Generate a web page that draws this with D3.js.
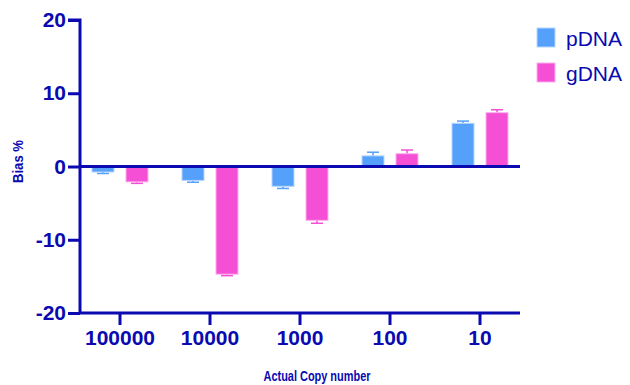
<!DOCTYPE html>
<html><head><meta charset="utf-8">
<script src="https://cdn.jsdelivr.net/npm/d3@7"></script>
<style>body{margin:0;background:#fff}svg{display:block}</style>
</head><body>
<svg id="c" width="630" height="385"></svg>
<script>
const categories = ["100000","10000","1000","100","10"];
const seriesNames = ["pDNA","gDNA"];
const pDNA = [-0.75,-1.9,-2.7,1.45,5.9];
const pDNAerr = [0.2,0.25,0.3,0.5,0.3];
const gDNA = [-2.1,-14.7,-7.35,1.75,7.35];
const gDNAerr = [0.2,0.2,0.4,0.5,0.4];
const yTicks = [-20,-10,0,10,20];
const colors = ["#55a0fb","#f54fd6"];
const strokes = ["#b5d6ff","#fbb0ec"];
const axisColor = "#0a0ab0";

const svg = d3.select("#c");
const x0 = 80, x1 = 520;
const y = d3.scaleLinear().domain([-20,20]).range([313,20]);
const x = d3.scaleBand().domain(categories).range([75,525]).paddingInner(0).paddingOuter(0);
const xs = d3.scaleBand().domain(seriesNames).range([-28,28]).paddingInner(0.353).paddingOuter(0);

const values = [pDNA,gDNA], errs=[pDNAerr,gDNAerr];
seriesNames.forEach((s,si)=>{
  const g = svg.append("g");
  categories.forEach((c,i)=>{
    const v = values[si][i], e = errs[si][i];
    const bx = x(c)+x.bandwidth()/2+xs(s), bw = xs.bandwidth();
    const cx = bx+bw/2;
    const tipEnd = v>=0 ? y(v+e) : y(v-e);
    g.append("line").attr("x1",cx).attr("x2",cx).attr("y1",y(v)).attr("y2",tipEnd)
      .attr("stroke",colors[si]).attr("stroke-width",1.5);
    g.append("line").attr("x1",cx-6).attr("x2",cx+6).attr("y1",tipEnd).attr("y2",tipEnd)
      .attr("stroke",colors[si]).attr("stroke-width",1.5);
    g.append("rect").attr("x",bx).attr("width",bw)
      .attr("y",Math.min(y(v),y(0))).attr("height",Math.abs(y(v)-y(0)))
      .attr("fill",colors[si]).attr("stroke",strokes[si]).attr("stroke-width",1);
  });
});

// zero line
svg.append("line").attr("x1",x0).attr("x2",x1).attr("y1",y(0)).attr("y2",y(0))
  .attr("stroke",axisColor).attr("stroke-width",3);

const fmt = d => String(d);
// y axis
const ya = svg.append("g").attr("transform",`translate(${x0},0)`)
  .call(d3.axisLeft(y).tickValues(yTicks).tickSize(12).tickPadding(2).tickFormat(fmt));
ya.select(".domain").attr("stroke",axisColor).attr("stroke-width",3).attr("d",`M-12,${y(20)}H0V${y(-20)}`);
ya.selectAll(".tick line").attr("stroke",axisColor).attr("stroke-width",3);
ya.selectAll(".tick text").attr("fill",axisColor).style("font-family","Liberation Sans, Arial, sans-serif")
  .style("font-size","21px").style("font-weight","bold");

// x axis
const xa = svg.append("g").attr("transform",`translate(0,${y(-20)})`)
  .call(d3.axisBottom(x).tickSize(12).tickPadding(5));
xa.select(".domain").attr("stroke",axisColor).attr("stroke-width",3).attr("d",`M${x0},0H${x1}`);
xa.selectAll(".tick line").attr("stroke",axisColor).attr("stroke-width",3);
xa.selectAll(".tick text").attr("fill",axisColor).style("font-family","Liberation Sans, Arial, sans-serif")
  .style("font-size","21px").style("font-weight","bold");

// axis titles
svg.append("text").attr("x",317).attr("y",381).attr("text-anchor","middle")
  .attr("textLength",107).attr("lengthAdjust","spacingAndGlyphs")
  .attr("fill",axisColor).style("font-family","Liberation Sans, Arial, sans-serif")
  .style("font-size","14px").style("font-weight","bold").text("Actual Copy number");
svg.append("text").attr("transform","translate(22.5,161.5) rotate(-90)").attr("text-anchor","middle")
  .attr("textLength",43).attr("lengthAdjust","spacingAndGlyphs")
  .attr("fill",axisColor).style("font-family","Liberation Sans, Arial, sans-serif")
  .style("font-size","15px").style("font-weight","bold").text("Bias %");

// legend
seriesNames.forEach((s,i)=>{
  const ly = 28 + i*35;
  svg.append("rect").attr("x",537).attr("y",ly).attr("width",18).attr("height",19)
    .attr("fill",colors[i]).attr("stroke",strokes[i]).attr("stroke-width",1);
  svg.append("text").attr("x",566).attr("y",ly+18).attr("fill",axisColor)
    .style("font-family","Liberation Sans, Arial, sans-serif").style("font-size","21px").text(s);
});
</script>
</body></html>
